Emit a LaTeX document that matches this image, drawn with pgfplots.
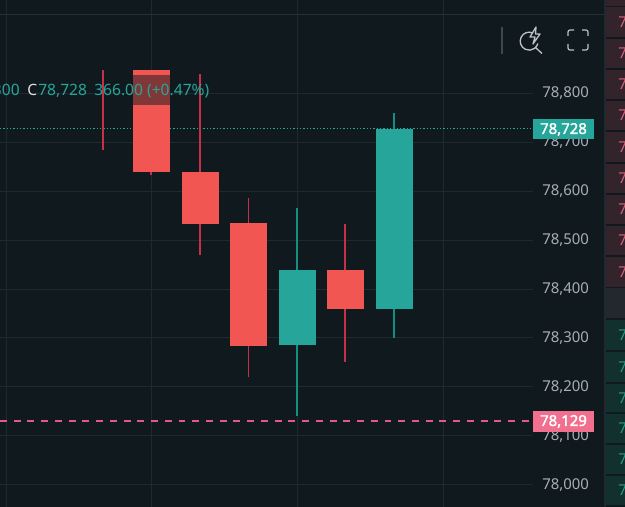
\documentclass[border=0pt]{standalone}
\usepackage{pgfplots}
\pgfplotsset{compat=1.18}
\usepackage{fontspec}
\setmainfont{Noto Sans}
\newfontfamily\tagfont{Noto Sans}[FakeBold=1.6]
\definecolor{bg}{HTML}{10191E}
\definecolor{gridc}{HTML}{1F2A2F}
\definecolor{rulec}{HTML}{2A2E2D}
\definecolor{sepc}{HTML}{3F484D}
\definecolor{upc}{HTML}{26A69A}
\definecolor{downc}{HTML}{F25652}
\definecolor{wickdown}{HTML}{C8304A}
\definecolor{wickup}{HTML}{158F82}
\definecolor{tagdown}{HTML}{F2708F}
\definecolor{dashc}{HTML}{E05A82}
\definecolor{ticktxt}{HTML}{A9AEB5}
\definecolor{cellr}{HTML}{33242B}
\definecolor{cellg}{HTML}{12302D}
\definecolor{celln}{HTML}{22282D}
\definecolor{digr}{HTML}{D85C78}
\definecolor{digg}{HTML}{1F9C85}
\definecolor{iconc}{HTML}{BCC1C5}
\newcommand{\fs}{\fontsize{11.2pt}{13pt}\selectfont}
\newcommand{\fl}{\fontsize{11.7pt}{13pt}\selectfont}
\begin{document}
\begin{tikzpicture}
\path[use as bounding box] (0,0) rectangle (468.75pt,380.25pt);
\fill[bg] (0,0) rectangle (468.75pt,380.25pt);
\begin{axis}[
  at={(0,0)},anchor=south west,
  scale only axis,width=399.75pt,height=380.25pt,
  xmin=0,xmax=533,ymin=77954.4,ymax=78991.2,
  axis line style={draw=none},
  major tick style={draw=none},
  grid=major,grid style={gridc,line width=0.75pt},
  xtick={6.5,151,297,443},xticklabels={},
  ytick={78000,78100,78200,78300,78400,78500,78600,78700,78800},
  yticklabel pos=right,
  yticklabel style={anchor=west,inner sep=0pt,xshift=6.75pt,text=ticktxt,font=\fs},
  /pgf/number format/assume math mode=true,
  /pgf/number format/1000 sep={,},
  /pgf/number format/fixed,
  scaled y ticks=false,
  clip=false,
]
% last price and reference price
\addplot[upc,line width=0.75pt,dash pattern=on 1pt off 1.5pt] coordinates {(0,78728)(533,78728)};
\addplot[dashc,line width=1.2pt,dash pattern=on 5.2pt off 5.1pt] coordinates {(0,78130)(533,78130)};
% wicks
\addplot[wickdown,line width=1pt] coordinates {(103,78848)(103,78684)};
\addplot[wickdown,line width=1pt] coordinates {(151,78848)(151,78633)};
\addplot[wickdown,line width=1pt] coordinates {(200,78840)(200,78470)};
\addplot[wickdown,line width=1pt] coordinates {(248.5,78586)(248.5,78220)};
\addplot[wickup,line width=1pt] coordinates {(297,78566)(297,78140)};
\addplot[wickdown,line width=1pt] coordinates {(345,78533)(345,78251)};
\addplot[wickup,line width=1pt] coordinates {(394,78760)(394,78300)};
% bodies
\addplot[fill=downc,draw=none] coordinates {(133,78848)(170,78848)(170,78640)(133,78640)} --cycle;
\addplot[fill=downc,draw=none] coordinates {(182,78640)(219,78640)(219,78533)(182,78533)} --cycle;
\addplot[fill=downc,draw=none] coordinates {(230,78535)(267,78535)(267,78283)(230,78283)} --cycle;
\addplot[fill=upc,draw=none] coordinates {(279,78439)(316,78439)(316,78286)(279,78286)} --cycle;
\addplot[fill=downc,draw=none] coordinates {(327,78439)(364,78439)(364,78359)(327,78359)} --cycle;
\addplot[fill=upc,draw=none] coordinates {(376,78728)(413,78728)(413,78359)(376,78359)} --cycle;
\end{axis}
\begin{scope}[x=0.75pt,y=-0.75pt,yshift=380.25pt]
% header rule
\draw[rulec,line width=0.75pt] (0,14.5) -- (604,14.5);
% legend band and text
\fill[bg,opacity=0.5] (133,75) rectangle (170,105);
\node[anchor=base east,inner sep=0pt,text=upc,font=\fl] at (20,96) {300};
\node[anchor=base west,inner sep=0pt,text=white!88!black,font=\fl] at (27,96) {C};
\node[anchor=base west,inner sep=0pt,text=upc,font=\fl] at (38,96) {78,728};
\node[anchor=base west,inner sep=0pt,text=upc,font=\fl] at (94,96) {366.00 (+0.47\%)};
% price tags
\fill[upc] (533,119) rectangle (594,139.5);
\node[anchor=center,inner sep=0pt,text=white,font=\fs\tagfont] at (563.5,129.5) {78,728};
\fill[tagdown] (533,411) rectangle (594,432);
\node[anchor=center,inner sep=0pt,text=white,font=\fs\tagfont] at (563.5,421.5) {78,129};
% toolbar icons
\draw[sepc,line width=1.5pt] (502,27) -- (502,54);
\draw[iconc,line width=1pt] (533,33) arc[start angle=-65,end angle=-345,radius=9];
\draw[iconc,line width=1pt] (535.5,47.5) -- (542,53.5);
\draw[iconc,line width=1pt,line join=round] (536,27) -- (530,37) -- (535,37) -- (533,44) -- (540,34) -- (535.5,34) -- cycle;
\draw[iconc,line width=0.9pt,rounded corners=1.5pt] (568,36) -- (568,30) -- (574,30);
\draw[iconc,line width=0.9pt,rounded corners=1.5pt] (582,30) -- (588,30) -- (588,36);
\draw[iconc,line width=0.9pt,rounded corners=1.5pt] (568,44) -- (568,50) -- (574,50);
\draw[iconc,line width=0.9pt,rounded corners=1.5pt] (582,50) -- (588,50) -- (588,44);
% right order-book column
\fill[gridc] (603.5,0) rectangle (605.5,507);
\foreach \a/\b in {7/37,39/68,70/99,101/130,132/162,164/193,195/224,226/255,257/287}{
  \fill[cellr] (605.5,\a) rectangle (625,\b);
  \node[anchor=base west,inner sep=0pt,text=digr,font=\fs] at (618,{(\a+\b)/2+5.5}) {7};
}
\fill[cellr] (605.5,0) rectangle (625,6);
\fill[celln] (605.5,288) rectangle (625,318);
\foreach \a/\b in {320/350,352/382,384/412,414/443,445/474,476/505}{
  \fill[cellg] (605.5,\a) rectangle (625,\b);
  \node[anchor=base west,inner sep=0pt,text=digg,font=\fs] at (618,{(\a+\b)/2+5.5}) {7};
}
\end{scope}
\end{tikzpicture}
\end{document}
